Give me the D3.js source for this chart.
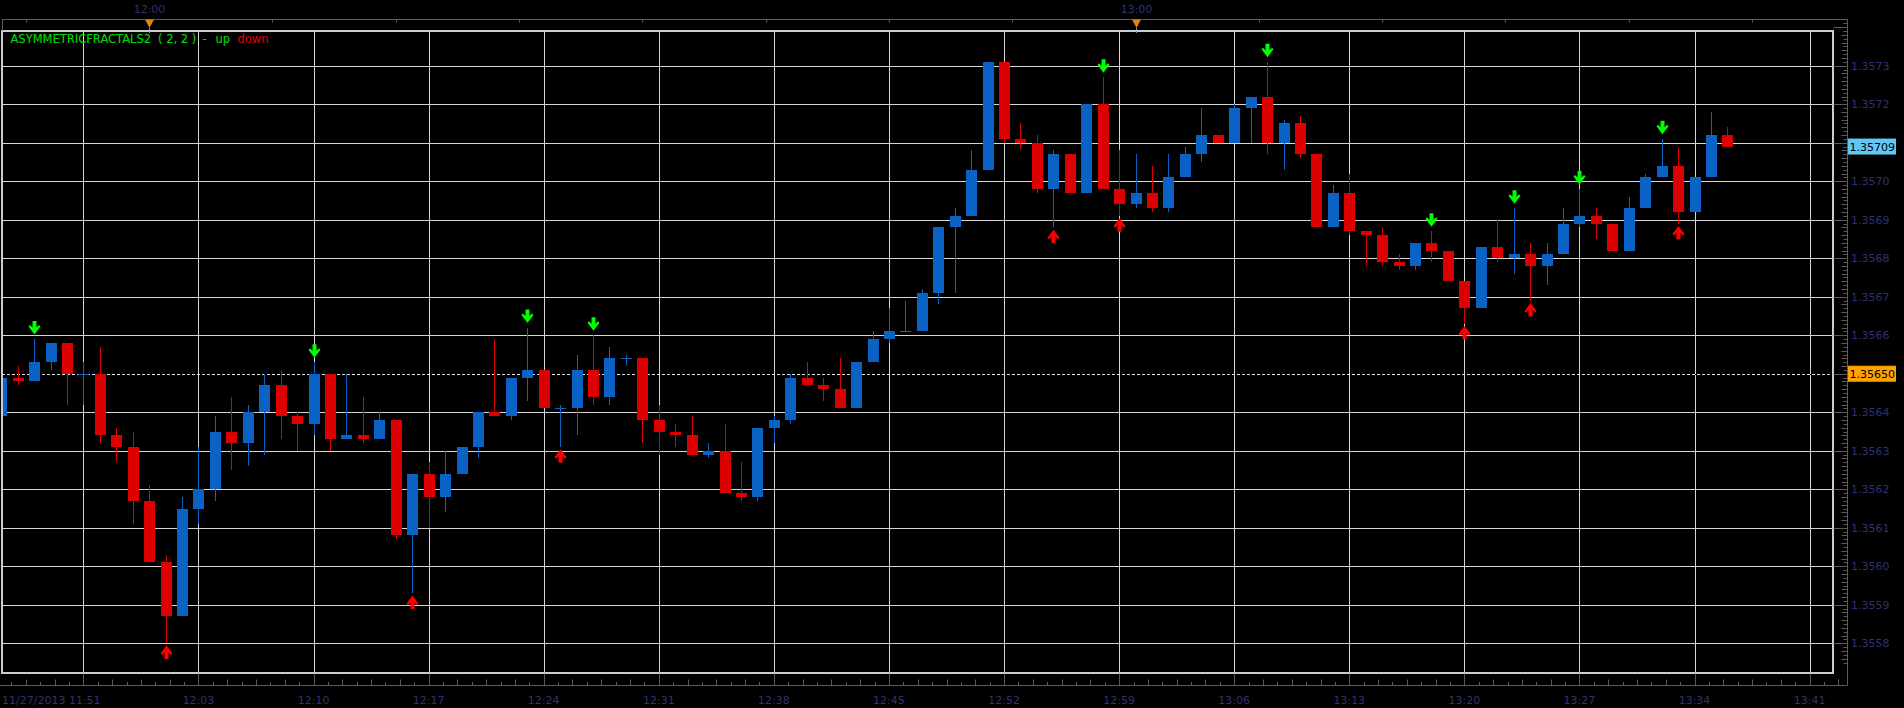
<!DOCTYPE html>
<html>
<head>
<meta charset="utf-8">
<script src="https://cdn.jsdelivr.net/npm/d3@7.9.0/dist/d3.min.js"></script>
<style>
  html, body { margin: 0; padding: 0; background: #000; overflow: hidden; }
  svg { display: block; font-family: "DejaVu Sans", sans-serif; font-size: 11px; }
</style>
</head>
<body>
<svg id="chart" width="1904" height="708"></svg>
<script>
// 1-minute bars starting 11/27/2013 11:51
const opens = [
  1.35639, 1.35649, 1.35648, 1.35653, 1.35658, 1.35650, 1.35650, 1.35634, 1.35631, 1.35617,
  1.35601, 1.35587, 1.35615, 1.35620, 1.35635, 1.35632, 1.35640, 1.35647, 1.35639, 1.35637,
  1.35650, 1.35633, 1.35634, 1.35633, 1.35638, 1.35608, 1.35624, 1.35618, 1.35624, 1.35631,
  1.35640, 1.35639, 1.35649, 1.35651, 1.35641, 1.35641, 1.35651, 1.35644, 1.35654, 1.35654,
  1.35638, 1.35635, 1.35634, 1.35629, 1.35630, 1.35619, 1.35618, 1.35636, 1.35638, 1.35649,
  1.35647, 1.35646, 1.35641, 1.35653, 1.35659, 1.35661, 1.35661, 1.35671, 1.35688, 1.35691,
  1.35703, 1.35731, 1.35711, 1.35710, 1.35698, 1.35707, 1.35697, 1.35720, 1.35698, 1.35694,
  1.35697, 1.35693, 1.35701, 1.35707, 1.35712, 1.35710, 1.35719, 1.35722, 1.35710, 1.35715,
  1.35707, 1.35688, 1.35697, 1.35687, 1.35686, 1.35679, 1.35678, 1.35684, 1.35682, 1.35674,
  1.35667, 1.35683, 1.35680, 1.35681, 1.35678, 1.35681, 1.35689, 1.35691, 1.35689, 1.35682,
  1.35693, 1.35701, 1.35704, 1.35692, 1.35701, 1.35712
];
const highs = [
  1.35650, 1.35652, 1.35659, 1.35658, 1.35658, 1.35653, 1.35657, 1.35636, 1.35635, 1.35621,
  1.35603, 1.35618, 1.35631, 1.35639, 1.35644, 1.35642, 1.35650, 1.35651, 1.35640, 1.35653,
  1.35650, 1.35650, 1.35644, 1.35640, 1.35638, 1.35624, 1.35627, 1.35630, 1.35631, 1.35640,
  1.35659, 1.35649, 1.35662, 1.35651, 1.35642, 1.35655, 1.35660, 1.35657, 1.35655, 1.35654,
  1.35642, 1.35637, 1.35639, 1.35632, 1.35637, 1.35627, 1.35636, 1.35639, 1.35650, 1.35653,
  1.35649, 1.35654, 1.35653, 1.35661, 1.35667, 1.35669, 1.35672, 1.35688, 1.35693, 1.35708,
  1.35731, 1.35731, 1.35715, 1.35712, 1.35708, 1.35707, 1.35720, 1.35727, 1.35708, 1.35707,
  1.35704, 1.35707, 1.35709, 1.35719, 1.35712, 1.35720, 1.35722, 1.35731, 1.35716, 1.35717,
  1.35707, 1.35699, 1.35702, 1.35687, 1.35688, 1.35681, 1.35684, 1.35687, 1.35682, 1.35674,
  1.35683, 1.35690, 1.35693, 1.35684, 1.35684, 1.35693, 1.35698, 1.35693, 1.35689, 1.35696,
  1.35702, 1.35711, 1.35709, 1.35701, 1.35718, 1.35714
];
const lows = [
  1.35638, 1.35647, 1.35648, 1.35651, 1.35642, 1.35642, 1.35632, 1.35627, 1.35611, 1.35601,
  1.35580, 1.35587, 1.35611, 1.35617, 1.35625, 1.35626, 1.35629, 1.35633, 1.35630, 1.35634,
  1.35630, 1.35633, 1.35632, 1.35633, 1.35607, 1.35593, 1.35610, 1.35614, 1.35624, 1.35628,
  1.35639, 1.35638, 1.35643, 1.35641, 1.35631, 1.35634, 1.35642, 1.35642, 1.35652, 1.35632,
  1.35629, 1.35631, 1.35629, 1.35628, 1.35619, 1.35617, 1.35617, 1.35632, 1.35637, 1.35647,
  1.35643, 1.35641, 1.35641, 1.35653, 1.35658, 1.35661, 1.35661, 1.35668, 1.35671, 1.35691,
  1.35703, 1.35710, 1.35708, 1.35697, 1.35688, 1.35697, 1.35697, 1.35698, 1.35691, 1.35693,
  1.35692, 1.35692, 1.35701, 1.35705, 1.35710, 1.35710, 1.35710, 1.35707, 1.35703, 1.35706,
  1.35688, 1.35688, 1.35686, 1.35678, 1.35678, 1.35677, 1.35677, 1.35679, 1.35674, 1.35663,
  1.35667, 1.35679, 1.35676, 1.35669, 1.35673, 1.35681, 1.35688, 1.35685, 1.35682, 1.35682,
  1.35693, 1.35701, 1.35689, 1.35692, 1.35701, 1.35709
];
const closes = [
  1.35649, 1.35648, 1.35653, 1.35658, 1.35650, 1.35650, 1.35634, 1.35631, 1.35617, 1.35601,
  1.35587, 1.35615, 1.35620, 1.35635, 1.35632, 1.35640, 1.35647, 1.35639, 1.35637, 1.35650,
  1.35633, 1.35634, 1.35633, 1.35638, 1.35608, 1.35624, 1.35618, 1.35624, 1.35631, 1.35640,
  1.35639, 1.35649, 1.35651, 1.35641, 1.35641, 1.35651, 1.35644, 1.35654, 1.35654, 1.35638,
  1.35635, 1.35634, 1.35629, 1.35630, 1.35619, 1.35618, 1.35636, 1.35638, 1.35649, 1.35647,
  1.35646, 1.35641, 1.35653, 1.35659, 1.35661, 1.35661, 1.35671, 1.35688, 1.35691, 1.35703,
  1.35731, 1.35711, 1.35710, 1.35698, 1.35707, 1.35697, 1.35720, 1.35698, 1.35694, 1.35697,
  1.35693, 1.35701, 1.35707, 1.35712, 1.35710, 1.35719, 1.35722, 1.35710, 1.35715, 1.35707,
  1.35688, 1.35697, 1.35687, 1.35686, 1.35679, 1.35678, 1.35684, 1.35682, 1.35674, 1.35667,
  1.35683, 1.35680, 1.35681, 1.35678, 1.35681, 1.35689, 1.35691, 1.35689, 1.35682, 1.35693,
  1.35701, 1.35704, 1.35692, 1.35701, 1.35712, 1.35709
];

// fractal bars (index into the arrays above)
const upFractals = [2, 19, 32, 36, 67, 77, 87, 92, 96, 101];
const downFractals = [10, 25, 34, 64, 68, 89, 93, 102];

const priceTicks = [1.3558, 1.3559, 1.3560, 1.3561, 1.3562, 1.3563, 1.3564, 1.3565,
                    1.3566, 1.3567, 1.3568, 1.3569, 1.3570, 1.3571, 1.3572, 1.3573];
const bottomLabels = ['11/27/2013 11:51', '12:03', '12:10', '12:17', '12:24', '12:31', '12:38',
                      '12:45', '12:52', '12:59', '13:06', '13:13', '13:20', '13:27', '13:34', '13:41'];
const topLabels = ['12:00', '13:00'];
const indicatorParts = ['ASYMMETRICFRACTALS2', '( 2, 2 )', '-', 'up', 'down'];
const lastPrice = 1.35709;
const linePrice = 1.35650;

const svg = d3.select('#chart');
const W = 1904;
const frame = { left: 2, top: 31, right: 1833, bottom: 673 };
const axisRight = 1847.5, axisTop = 19.5, axisBottom = 685.5;
const axisColor = '#5c5c5c';
const labelColor = '#2e3273';
const blue = '#0a62c4', red = '#dd0000';

const minute = 60000;
const t0 = new Date(2013, 10, 27, 11, 51);
const barTime = i => new Date(+t0 + i * minute);
const parseHM = s => {
  const [h, m] = s.slice(-5).split(':').map(Number);
  return new Date(2013, 10, 27, h, m);
};

const x = d3.scaleTime()
  .domain([t0, barTime(110)])
  .range([1.2, 1809.6]);
const y = d3.scaleLinear()
  .domain([1.3558, 1.3573])
  .range([643.3, 65.7]);

svg.append('rect').attr('width', W).attr('height', 708).attr('fill', '#000');

svg.append('defs').append('clipPath').attr('id', 'plot')
  .append('rect')
  .attr('x', frame.left + 1).attr('y', frame.top + 1)
  .attr('width', frame.right - frame.left - 2).attr('height', frame.bottom - frame.top - 2);

// grid
const grid = svg.append('g').attr('stroke', '#d6d6d6').attr('stroke-width', 1);
priceTicks.forEach(p => {
  const yy = Math.round(y(p)) + 0.5;
  grid.append('line').attr('x1', frame.left).attr('x2', frame.right).attr('y1', yy).attr('y2', yy);
});
const gridBars = d3.range(5, 111, 7);
gridBars.forEach(i => {
  const xx = Math.round(x(barTime(i))) + 0.5;
  grid.append('line').attr('x1', xx).attr('x2', xx).attr('y1', frame.top).attr('y2', frame.bottom);
});

// horizontal price line (dashed)
const ly = Math.round(y(linePrice)) + 0.5;
svg.append('line').attr('x1', frame.left).attr('x2', frame.right).attr('y1', ly).attr('y2', ly)
  .attr('stroke', '#000').attr('stroke-width', 1);
svg.append('line').attr('x1', frame.left).attr('x2', frame.right).attr('y1', ly).attr('y2', ly)
  .attr('stroke', '#e6e6e6').attr('stroke-width', 1).attr('stroke-dasharray', '3,2');

// candles
const plot = svg.append('g').attr('clip-path', 'url(#plot)');
opens.forEach((o, i) => {
  const c = closes[i];
  const cx = Math.round(x(barTime(i)));
  const col = c >= o ? blue : red;
  const yh = Math.round(y(highs[i])), yl = Math.round(y(lows[i]));
  const yTop = Math.round(y(Math.max(o, c))), yBot = Math.round(y(Math.min(o, c)));
  plot.append('rect').attr('x', cx).attr('y', yh).attr('width', 1).attr('height', Math.max(1, yl - yh))
    .attr('fill', col);
  plot.append('rect').attr('x', cx - 5).attr('y', yTop).attr('width', 11)
    .attr('height', Math.max(1, yBot - yTop)).attr('fill', col);
});

// fractal arrows
const downArrow = 'M-2,0 L2,0 L2,6.5 L4.5,4 L6,5.5 L0,13.5 L-6,5.5 L-4.5,4 L-2,6.5 Z';
upFractals.forEach(i => {
  const cx = Math.round(x(barTime(i))) + 0.5;
  const yb = y(highs[i]) - 4.5;
  plot.append('path').attr('d', downArrow)
    .attr('transform', `translate(${cx},${yb - 13.5})`).attr('fill', '#00ff00');
});
downFractals.forEach(i => {
  const cx = Math.round(x(barTime(i))) + 0.5;
  const yt = y(lows[i]) + 2.3;
  plot.append('path').attr('d', downArrow)
    .attr('transform', `translate(${cx},${yt + 13.5}) scale(1,-1)`).attr('fill', '#ff0000');
});

// frame
svg.append('rect')
  .attr('x', frame.left).attr('y', frame.top)
  .attr('width', frame.right - frame.left).attr('height', frame.bottom - frame.top)
  .attr('fill', 'none').attr('stroke', '#c9ced6').attr('stroke-width', 2);

// indicator label
const partX = [10.5, 158, 202.5, 215.5, 237.5];
const lab = svg.append('text').attr('y', 42.5).style('font-size', '11.5px');
indicatorParts.forEach((s, i) => {
  lab.append('tspan').attr('x', partX[i]).attr('fill', i === 4 ? '#e00000' : '#00e000').text(s);
});

// axes lines
const ax = svg.append('g').attr('stroke', axisColor).attr('stroke-width', 1);
ax.append('line').attr('x1', 2).attr('x2', axisRight).attr('y1', axisTop).attr('y2', axisTop);
ax.append('line').attr('x1', 2.5).attr('x2', 2.5).attr('y1', axisTop).attr('y2', frame.top);
ax.append('line').attr('x1', axisRight).attr('x2', axisRight).attr('y1', axisTop).attr('y2', axisBottom);
ax.append('line').attr('x1', 0).attr('x2', axisRight).attr('y1', axisBottom).attr('y2', axisBottom);

// right axis ticks: every 0.00001
d3.range(-3, 180).forEach(k => {
  const p = 1.3558 + (k - 2) * 0.00001;
  const yy = Math.round(y(p)) + 0.5;
  if (yy < axisTop || yy > frame.bottom) return;
  const kk = k - 2;
  const len = kk % 10 === 0 ? 14 : (Math.abs(kk) % 2 === 0 ? 6 : 4);
  ax.append('line').attr('x1', axisRight - len).attr('x2', axisRight).attr('y1', yy).attr('y2', yy);
});

// bottom axis ticks: 8 per grid step
const tickStep = 7 * minute / 8;
d3.range(-5, 124).forEach(k => {
  const xx = Math.round(x(new Date(+barTime(5) + k * tickStep))) + 0.5;
  if (xx < 2 || xx > axisRight) return;
  const len = k % 8 === 0 ? 12 : (k % 2 === 0 ? 6 : 3.5);
  ax.append('line').attr('x1', xx).attr('x2', xx).attr('y1', axisBottom - len).attr('y2', axisBottom);
});

// top axis ticks every 7.5 minutes
d3.range(0, 15).forEach(k => {
  const xx = Math.round(x(new Date(+t0 + 1.5 * minute + k * 7.5 * minute))) + 0.5;
  if (xx > axisRight) return;
  ax.append('line').attr('x1', xx).attr('x2', xx).attr('y1', axisTop).attr('y2', axisTop + 3);
});

// price labels (hidden where a price box sits on top)
const fmt = d3.format('.4f');
const boxed = [linePrice, lastPrice];
svg.append('g').selectAll('text')
  .data(priceTicks.filter(p => boxed.every(b => Math.abs(y(p) - y(b)) > 12)))
  .join('text')
  .attr('x', 1851).attr('y', d => y(d)).attr('dy', '0.36em')
  .attr('fill', labelColor).text(d => fmt(d));

// bottom time labels
bottomLabels.forEach((s, i) => {
  const t = svg.append('text').attr('y', 704).attr('fill', labelColor).text(s);
  if (i === 0) t.attr('x', 2);
  else t.attr('x', x(parseHM(s))).attr('text-anchor', 'middle');
});

// top time labels with markers
topLabels.forEach(s => {
  const cx = Math.round(x(parseHM(s))) + 0.5;
  svg.append('text').attr('x', cx).attr('y', 13).attr('text-anchor', 'middle')
    .attr('fill', labelColor).text(s);
  svg.append('path').attr('d', `M${cx - 4.5},${axisTop} L${cx + 4.5},${axisTop} L${cx},${axisTop + 8.5} Z`)
    .attr('fill', '#e4870f');
  svg.append('line').attr('x1', cx).attr('x2', cx).attr('y1', axisTop + 8.5).attr('y2', frame.top + 3)
    .attr('stroke', '#9a9a9a').attr('stroke-dasharray', '2,1');
});

// price boxes
const box = (p, fill) => {
  const yy = y(p);
  svg.append('rect').attr('x', 1848).attr('y', yy - 8).attr('width', 48).attr('height', 16).attr('fill', fill);
  svg.append('text').attr('x', 1849.5).attr('y', yy).attr('dy', '0.36em').attr('fill', '#000')
    .text(d3.format('.5f')(p));
};
box(linePrice, '#ffa200');
box(lastPrice, '#5ec8f8');
</script>
</body>
</html>
